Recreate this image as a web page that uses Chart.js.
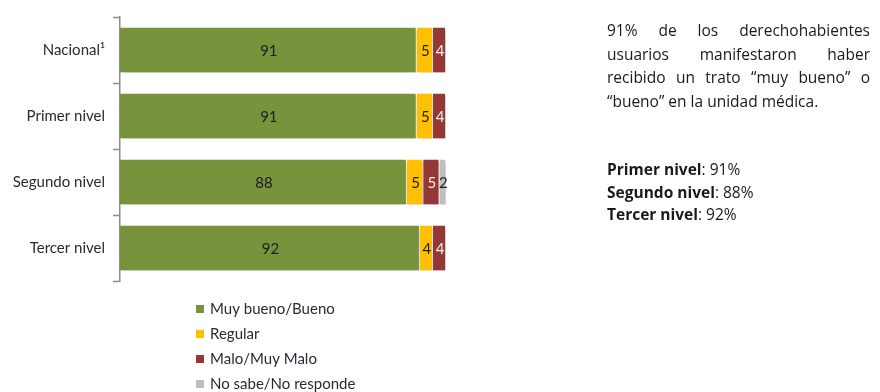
<!DOCTYPE html>
<html lang="es">
<head>
<meta charset="utf-8">
<title>Trato en la unidad médica</title>
<script src="https://cdn.jsdelivr.net/npm/chart.js@4"></script>
<style>
    body {
        margin: 0;
        background: #fff;
        font-family: Lato, 'Noto Sans', sans-serif;
    }
    #wrap {
        position: relative;
        width: 880px;
        height: 392px;
    }
    .nota {
        position: absolute;
        left: 607px;
        width: 263px;
        color: #1a1a1a;
        font-family: 'Open Sans', sans-serif;
        font-size: 15.5px;
        margin: 0;
    }
    #resumen {
        top: 19px;
        text-align: justify;
        line-height: 23.5px;
    }
    #niveles {
        top: 158px;
        line-height: 22.5px;
    }
</style>
</head>
<body>
<div id="wrap">
    <canvas id="my-chart"></canvas>
    <p class="nota" id="resumen">91% de los derechohabientes usuarios manifestaron haber recibido un trato “muy bueno” o “bueno” en la unidad médica.</p>
    <p class="nota" id="niveles"></p>
</div>
<script>
// Satisfaction with treatment received, by level of care (%)
const categories = ['Nacional¹', 'Primer nivel', 'Segundo nivel', 'Tercer nivel']
const seriesNames = ['Muy bueno/Bueno', 'Regular', 'Malo/Muy Malo', 'No sabe/No responde']
const muyBueno = [91, 91, 88, 92]
const regular = [5, 5, 5, 4]
const malo = [4, 4, 5, 4]
const noSabe = [0, 0, 2, 0]
const xTicks = [0, 100]

const colors = ['#77933C', '#FFC000', '#953735', '#BFBFBF']
const labelColors = ['#1e1e1e', '#1e1e1e', '#f2f2f2', '#1e1e1e']
const ctx = document.getElementById('my-chart')

// summary lines on the right, taken from the first series
const niveles = document.getElementById('niveles')
for (let i = 1; i < categories.length; i++) {
    const line = document.createElement('div')
    const b = document.createElement('b')
    b.textContent = categories[i]
    line.appendChild(b)
    line.appendChild(document.createTextNode(': ' + muyBueno[i] + '%'))
    niveles.appendChild(line)
}

// soft shadow under the bars
const barShadow = {
    id: 'barShadow',
    beforeDatasetsDraw(chart) {
        const c = chart.ctx
        c.save()
        c.shadowColor = 'rgba(0, 0, 0, 0.22)'
        c.shadowOffsetX = 1.5
        c.shadowOffsetY = 2
        c.shadowBlur = 2
    },
    afterDatasetsDraw(chart) {
        chart.ctx.restore()
    }
}

// value written in the middle of each segment
const segmentLabels = {
    id: 'segmentLabels',
    afterDatasetsDraw(chart) {
        const c = chart.ctx
        c.save()
        c.font = '15px Lato, sans-serif'
        c.textAlign = 'center'
        c.textBaseline = 'middle'
        chart.data.datasets.forEach((ds, i) => {
            const meta = chart.getDatasetMeta(i)
            meta.data.forEach((bar, j) => {
                const v = ds.data[j]
                if (!v) return
                c.fillStyle = labelColors[i]
                c.fillText(v, (bar.x + bar.base) / 2 + 0.5, bar.y + 1)
            })
        })
        c.restore()
    }
}

// vertical legend under the bars
const listLegend = {
    id: 'listLegend',
    afterDraw(chart) {
        const c = chart.ctx
        c.save()
        c.font = '15px Lato, sans-serif'
        c.textBaseline = 'middle'
        chart.data.datasets.forEach((ds, i) => {
            const y = 309 + i * 25
            c.fillStyle = ds.backgroundColor
            c.fillRect(196, y - 4, 8, 8)
            c.fillStyle = '#2a2a36'
            c.fillText(ds.label, 210, y)
        })
        c.restore()
    }
}

const datasets = [muyBueno, regular, malo, noSabe].map((values, i) => ({
    label: seriesNames[i],
    data: values,
    backgroundColor: colors[i],
    borderColor: '#ffffff',
    borderWidth: { left: 0, right: 1, top: 0, bottom: 0 },
    borderSkipped: false,
    barPercentage: 0.68,
    categoryPercentage: 1
}))

new Chart(ctx, {
    type: 'bar',
    data: {
        labels: categories,
        datasets: datasets
    },
    options: {
        indexAxis: 'y',
        responsive: true,
        maintainAspectRatio: false,
        animation: false,
        layout: {
            padding: { top: 15, right: 434, bottom: 111, left: 0 }
        },
        plugins: {
            legend: { display: false },
            tooltip: { enabled: false }
        },
        scales: {
            x: {
                stacked: true,
                display: false,
                min: xTicks[0],
                max: xTicks[1]
            },
            y: {
                stacked: true,
                afterFit(scale) {
                    scale.width = 120
                },
                border: { color: '#8c8c8c', width: 1.5 },
                grid: {
                    drawOnChartArea: false,
                    tickLength: 7,
                    tickWidth: 1.5,
                    color: '#8c8c8c'
                },
                ticks: {
                    color: '#2a2a36',
                    padding: 8,
                    font: { family: 'Lato, sans-serif', size: 15 }
                }
            }
        }
    },
    plugins: [barShadow, segmentLabels, listLegend]
})
</script>
</body>
</html>
